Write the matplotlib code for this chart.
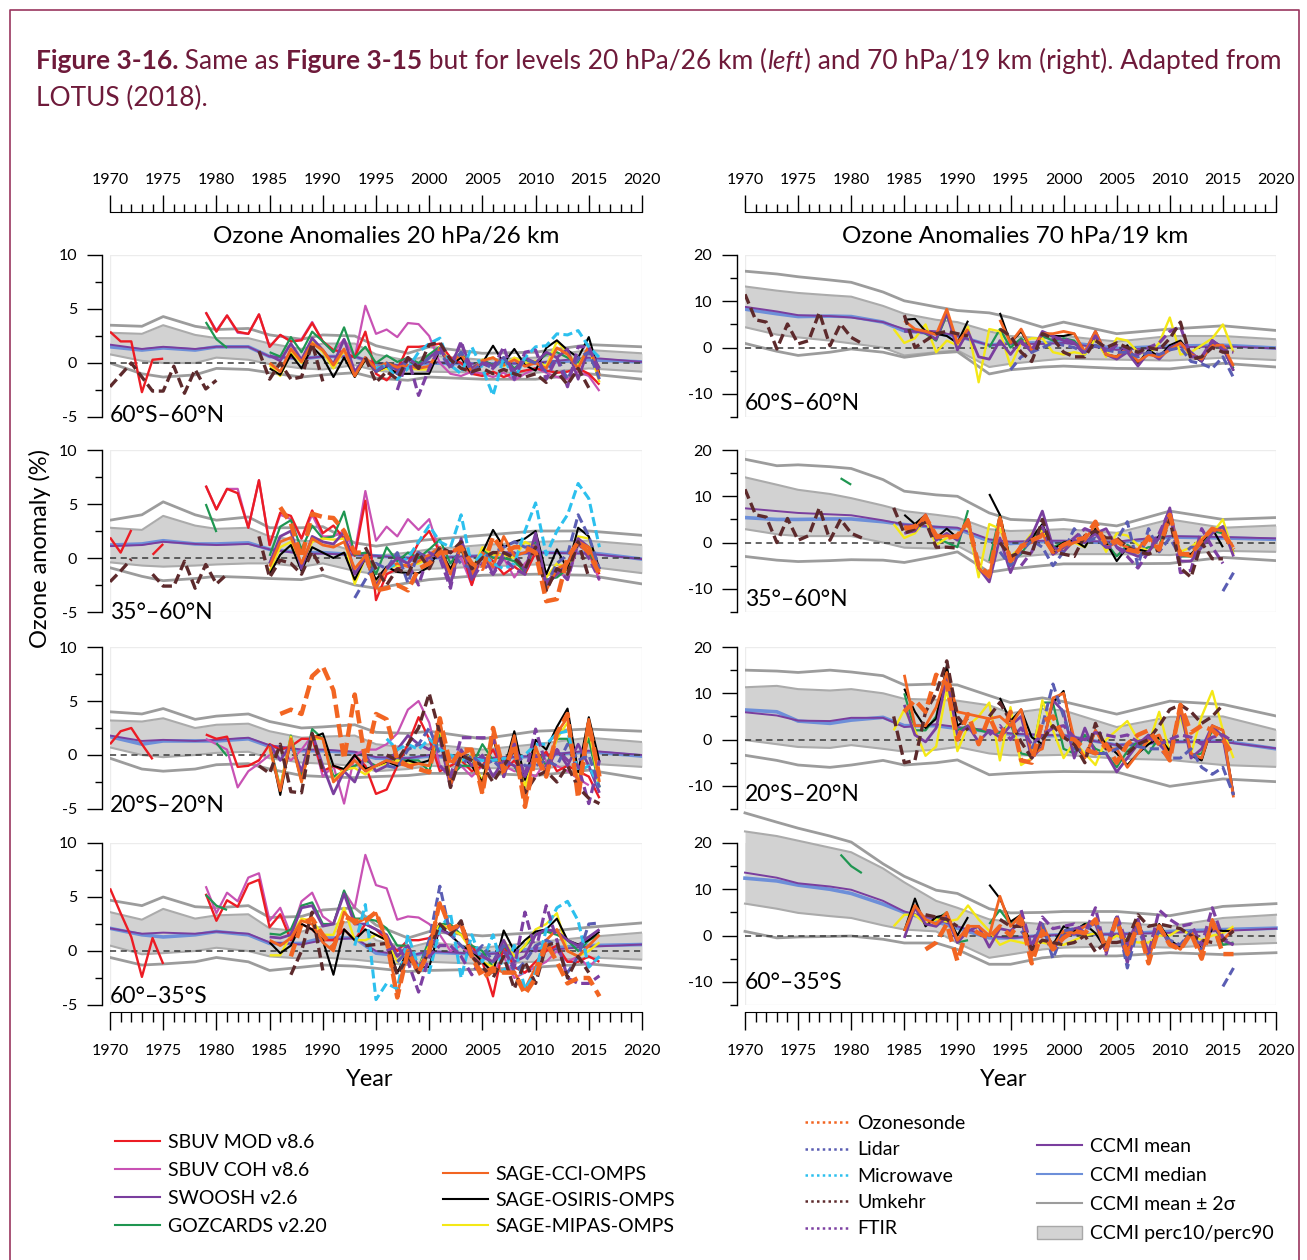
import numpy as np
import matplotlib

matplotlib.use("Agg")
import matplotlib.pyplot as plt
from matplotlib.lines import Line2D
from matplotlib.patches import Patch, Rectangle
from matplotlib.ticker import MultipleLocator

nan = np.nan

# ---------------------------------------------------------------- data
# CCMI model envelopes are given on a coarse grid of years
CCMI_YEARS = [1970, 1973, 1975, 1978, 1980, 1983, 1985, 1988, 1990, 1993,
              1995, 1998, 2000, 2005, 2010, 2015, 2020]

# 20 hPa, 60S-60N
A1_UP = [3.5, 3.4, 4.3, 3.4, 3.1, 3.2, 2.6, 2.2, 2.6, 2.5, 1.6, 0.9, 1.5, 0.9, 1.0, 1.7, 1.5]
A1_P90 = [2.8, 2.7, 3.5, 2.6, 2.3, 2.3, 1.8, 1.3, 1.8, 1.8, 0.8, 0.2, 0.7, 0.3, 0.5, 1.2, 0.9]
A1_P10 = [0.8, 0.2, 0.0, 0.0, 0.5, 0.3, -0.1, -0.5, -0.6, -0.2, -0.7, -1.0, -0.8, -0.9, -0.9, -0.5, -0.8]
A1_LO = [0.0, -1.0, -1.3, -1.1, -0.5, -0.6, -0.9, -1.3, -1.1, -0.9, -1.4, -1.6, -1.3, -1.5, -1.5, -1.0, -1.5]
A1_MEAN = [1.7, 1.3, 1.5, 1.3, 1.5, 1.5, 0.6, 0.4, 0.6, 0.6, 0.0, -0.3, 0.1, -0.1, 0.0, 0.5, 0.1]
A1_MEDIAN = [1.5, 1.2, 1.4, 1.2, 1.5, 1.5, 0.6, 0.4, 0.6, 0.6, -0.1, -0.3, 0.0, -0.1, 0.0, 0.3, 0.1]

A1_SBUV_MOD = (1970, [2.9, 2.0, 2.0, -2.7, 0.3, 0.4, nan, nan, nan, 4.7, 2.9, 4.4, 2.9, 2.7, 4.5, 1.5,
                      2.6, 2.0, 2.1, 3.7, 2.0, 1.2, 1.0, 0.5, 2.9, -1.0, -1.6, -0.6, 1.5, 1.5, 1.6, 1.8,
                      0.5, 0.0, -1.0, -1.2, -0.8, -1.3, -0.9, -0.7, -0.5, -0.7, -0.9, -0.8, -0.5, -1.0, -2.0])
A1_SBUV_COH = (1979, [4.7, 3.0, 4.4, 2.8, 2.7, 4.5, 1.5, 2.6, 2.0, 2.2, 3.8, 2.0, 1.0, 2.2, 0.5, 5.3,
                      2.7, 3.1, 2.4, 3.7, 3.6, 2.5, 0.0, -1.0, -1.2, -0.8, -1.0, -1.3, -0.9, -1.6, -1.0,
                      -0.5, -0.9, -1.3, -1.5, -0.8, -1.2, -2.6])
A1_GOZCARDS = (1979, [3.8, 2.2, 1.4, nan, nan, nan, 1.0, 0.6, 2.4, 1.0, 2.9, 2.0, 1.0, 3.3, 0.5, 1.5,
                      0.0, 0.7, 0.1, 0.5, 0.0, 0.8, 1.5, 0.0, 1.0, -0.5, 0.3, -0.2, 0.5, -0.5, 0.3,
                      0.0, 0.8, 1.0, 0.5, 0.0, 1.2, -0.5])
A1_SWOOSH = (1985, [0.7, 0.2, 1.8, 0.3, 2.3, 1.2, -0.1, 2.2, -0.8, 0.5, -0.8, -0.2, -0.6, 0.5, -0.3,
                    0.5, 1.3, -0.2, 1.8, -0.5, 0.2, -0.3, 0.5, -0.7, 0.5, 0.0, 1.0, 0.5, 1.3, -1.5, 1.4, -0.5])
A1_SAGE_CCI = (1985, [0.0, -0.8, 1.3, 0.1, 1.8, 1.2, -0.2, 1.3, -1.2, 0.5, -0.5, 0.0, -0.4, -0.2, -0.5,
                      -0.3, 1.3, 0.0, 0.8, -0.8, 0.2, 0.5, -0.2, 0.3, -0.3, 0.0, -0.5, 1.4, 0.8, -0.5, 1.6, -1.2])
A1_SAGE_OSIRIS = (1985, [-0.5, -1.1, 0.8, -0.5, 1.5, 0.5, -1.3, 0.5, -1.3, 0.3, -0.8, -0.3, -1.0, -1.0,
                         -1.0, -1.0, 1.2, -0.2, 0.5, -1.0, 0.0, 1.6, 0.0, 1.3, -0.2, -0.7, 1.4, 2.1, 1.2,
                         0.5, 2.4, -1.0])
A1_SAGE_MIPAS = (1985, [-0.2, -1.2, 1.0, 0.0, 2.0, 1.0, -0.5, 1.2, -1.2, 0.3, -0.8, -0.5, -1.0, -0.5,
                        -0.6, -0.6, 1.5, 0.0, 0.8, -0.5, 0.3, 0.5, -0.3, 0.5, 0.0, 0.2, -0.3, 2.0, 1.0,
                        -0.3, 1.5, -1.8])
A1_LIDAR = (1995, [-0.8, 0.0, -1.0, 0.3, -0.5, 0.5, 1.0, -0.5, 1.0, -0.8, 0.0, -0.5, 0.5, -1.0, 0.3,
                   0.0, -0.8, 0.5, -1.5, 0.5, 1.0, -1.5])
A1_MICROWAVE = (1995, [-0.5, -0.2, -1.5, -0.5, 1.0, 1.8, 2.3, -0.2, -1.0, 1.5, -0.5, -3.0, 0.5, -1.5,
                       0.5, 1.5, 1.6, 2.7, 2.6, 3.0, 1.5, 0.5])
A1_UMKEHR = (1970, [-2.2, -1.1, 0.0, -1.3, -2.6, -2.6, -0.3, -2.8, -0.6, -2.4, -1.6, nan, nan, nan, 1.1,
                    -1.5, 0.0, -1.5, -1.3, 1.8, -1.7, nan, nan, nan, 0.5, -1.8, -0.8, -1.5, 0.5, -0.5,
                    1.7, 1.9, 0.3, -0.5, -0.8, -0.5, -1.0, -0.6, -1.0, -1.3, -1.0, -1.8, -0.8, -2.0,
                    -0.5, -2.3])
A1_FTIR = (1997, [-2.5, 0.5, -3.0, -0.5, 1.5, -0.5, 2.0, -1.0, 0.0, -0.5, 1.5, -1.5, 1.0, 1.2, -1.5,
                  0.5, -2.2, 1.5, 1.5, -1.0])

# 20 hPa, 35-60N
B1_UP = [3.5, 4.0, 5.2, 4.0, 3.5, 3.8, 2.8, 2.8, 2.9, 1.4, 1.1, 1.5, 1.7, 2.1, 2.5, 2.5, 2.1]
B1_P90 = [2.8, 2.6, 3.9, 3.0, 2.7, 2.8, 2.0, 1.6, 1.5, 0.6, 0.2, 0.5, 0.8, 1.2, 1.5, 1.6, 1.2]
B1_P10 = [-0.4, -0.7, -0.8, -0.7, -0.6, -0.5, -0.5, -0.8, -0.5, -1.2, -1.5, -1.2, -1.0, -0.8, -0.6, -0.8, -1.4]
B1_LO = [-0.9, -1.7, -2.1, -1.9, -1.7, -1.8, -1.9, -2.0, -1.6, -2.5, -2.8, -2.3, -2.0, -1.6, -1.5, -1.6, -2.4]
B1_MEAN = [1.1, 1.2, 1.5, 1.3, 1.2, 1.3, 0.8, 0.4, 0.4, 0.3, 0.2, 0.0, 0.0, 0.2, 0.5, 0.4, -0.1]
B1_MEDIAN = [1.2, 1.3, 1.6, 1.3, 1.3, 1.4, 0.8, 0.5, 0.5, 0.3, 0.2, 0.0, 0.0, 0.2, 0.5, 0.5, -0.1]

B1_SBUV_MOD = (1970, [1.9, 0.5, 2.6, nan, 0.3, 1.3, nan, nan, nan, 6.7, 4.5, 6.4, 6.0, 2.8, 7.2, 1.2,
                      4.2, 3.9, 1.8, 4.4, 2.3, 3.0, 1.8, 0.2, 5.3, -3.9, -1.5, -1.0, -0.5, 1.4, 2.5,
                      0.5, 0.5, 1.0, -2.5, 0.5, -0.3, -1.5, -0.8, -1.5, 0.5, -2.5, -1.5, -1.0, 1.5,
                      0.5, -1.5])
B1_SBUV_COH = (1979, [6.7, 4.5, 6.4, 6.4, 2.8, 7.2, 1.2, 4.0, 3.6, 1.8, 4.0, 2.0, 2.0, 2.5, 0.5, 6.2,
                      1.6, 2.9, 2.0, 3.6, 2.6, 3.6, 0.5, -1.0, 0.0, -2.5, 0.8, -1.0, 0.0, -1.8, -0.5,
                      0.5, -2.8, -1.0, -2.0, 1.2, 0.5, -2.1])
B1_GOZCARDS = (1979, [5.0, 2.4, nan, nan, nan, nan, 0.2, 2.9, 3.5, 0.8, 3.0, 1.8, 2.0, 4.3, 0.3, 0.5,
                      -1.5, 1.0, -0.3, 0.5, 0.0, 0.8, 1.7, -0.5, 0.8, -1.5, 0.8, 0.0, 0.0, -0.3, -1.3,
                      1.5, -2.0, -1.8, -1.0, 1.3, 0.5, -1.0])
B1_SWOOSH = (1985, [-0.5, 2.0, 2.5, -1.0, 2.0, 1.5, 1.3, 2.4, -1.5, 0.0, -2.5, -1.0, 0.0, -0.5, 0.5,
                    0.0, 1.0, -2.5, 1.8, -2.0, 0.5, -1.5, 0.5, 0.5, -1.2, 2.3, -2.5, -1.5, -0.5, 1.8,
                    1.0, -1.0])
B1_SAGE_CCI = (1985, [-0.8, 1.5, 1.9, -0.5, 1.8, 1.2, 1.0, 1.5, -1.0, 0.2, -2.8, -1.0, -0.5, -0.8, -0.3,
                      0.3, 1.0, -1.5, 1.0, -1.5, 0.5, -0.8, 2.0, 0.2, 0.5, 1.2, -3.0, -1.0, -0.5, 1.5,
                      1.0, -1.2])
B1_SAGE_OSIRIS = (1985, [-1.5, 0.3, 1.2, -1.2, 1.0, 0.5, 0.0, 0.5, -2.0, 0.0, -2.0, -0.8, -1.3, -1.4,
                         -1.4, -0.8, 0.8, -1.0, 0.8, -1.0, 0.5, 2.6, 1.0, 1.5, 1.8, 2.5, -1.5, 0.8, -1.0,
                         2.8, 2.0, -1.0])
B1_SAGE_MIPAS = (1985, [-1.2, 1.0, 1.5, -0.8, 1.5, 1.8, 1.7, 1.8, -2.4, 0.0, -2.2, -1.0, -0.7, -0.7,
                        -0.5, 0.0, 0.8, -1.5, 1.0, -1.2, 1.0, 0.3, 0.3, 0.0, 1.5, 1.0, -1.8, -0.5, -1.0,
                        2.0, 1.8, -1.3])
B1_SONDE = (1986, [4.7, 3.2, 0.0, 4.1, 3.8, 3.7, 2.5, 0.5, 0.5, -3.0, -2.8, -2.5, -3.0, -1.0, -0.5,
                   0.5, 0.5, 1.0, -0.5, -1.0, 2.0, 0.5, 1.0, 1.0, 0.5, -4.0, -3.8, 0.0, 1.5, 0.5, -1.5])
B1_LIDAR = (1993, [-3.7, -2.0, -0.5, -1.0, 0.5, -2.3, 0.5, -0.5, 1.0, 0.5, -0.5, -1.0, 0.0, 0.5, 1.0,
                   1.5, 1.0, 1.2, -2.5, -0.5, 0.3, 4.0, 2.0, -1.0])
B1_MICROWAVE = (1996, [-1.0, -0.5, 0.0, 1.5, 3.0, 1.5, 1.0, 4.0, -0.8, 0.5, -0.5, -1.0, -0.5, 2.5, 5.1,
                       0.3, 2.5, 4.0, 6.9, 5.5, 1.0])
B1_UMKEHR = (1970, [-2.2, -1.2, -0.1, nan, -1.5, -2.6, -2.6, -0.3, -2.8, -0.6, -2.4, -1.5, nan, nan,
                    2.0, -1.8, -0.2, -0.5, -1.5, 0.6, -1.2, nan, nan, nan, 1.0, -1.0, -2.5, -1.0, -1.5,
                    0.5, -1.0, 1.0, 0.5, 1.5, -1.0, 0.0, 0.5, 0.5, 0.0, -1.0, 1.0, -3.0, -1.0, -1.5,
                    1.5, -1.8])
B1_FTIR = (1996, [-1.0, 0.0, -0.5, -2.5, 0.5, 0.0, -2.8, 1.8, -2.0, -0.5, -1.5, 0.0, -1.0, -1.5, 2.0,
                  -2.5, -1.0, -2.0, 1.5, 0.0, -2.0])

# 20 hPa, 20S-20N
C1_UP = [4.0, 3.8, 4.3, 3.3, 3.6, 3.8, 3.1, 2.5, 2.6, 2.8, 2.1, 2.0, 2.2, 1.5, 2.2, 2.4, 2.2]
C1_P90 = [3.2, 3.1, 3.4, 2.5, 2.8, 2.9, 2.2, 1.6, 1.7, 1.8, 1.0, 0.7, 1.0, 0.5, 1.0, 1.6, 1.2]
C1_P10 = [0.7, 0.0, -0.2, 0.0, 0.2, 0.3, -0.3, -0.7, -0.8, -1.0, -1.5, -1.3, -1.0, -1.2, -1.3, -0.8, -1.1]
C1_LO = [-0.3, -1.3, -1.5, -1.3, -0.9, -0.8, -1.3, -1.9, -2.0, -2.1, -2.0, -1.9, -1.7, -1.7, -1.9, -1.4, -2.2]
C1_MEAN = [1.8, 1.3, 1.4, 1.3, 1.4, 1.6, 0.9, 0.5, 0.5, 0.3, -0.2, -0.3, 0.0, -0.3, -0.1, 0.4, 0.0]
C1_MEDIAN = [1.7, 1.0, 1.3, 1.3, 1.3, 1.5, 0.8, 0.4, 0.4, 0.2, -0.3, -0.3, -0.1, -0.4, -0.1, 0.3, -0.1]

C1_SBUV_MOD = (1970, [1.0, 2.2, 2.5, 1.0, -0.4, nan, nan, nan, nan, 1.9, 1.5, 1.7, -1.1, -1.0, -0.5,
                      1.0, 0.5, 0.8, 1.5, 1.5, -1.5, -1.0, -1.5, 0.0, -1.0, -3.6, -3.2, -1.0, 1.0, 3.5,
                      1.5, -1.5, -1.0, -0.5, -1.5, -1.0, 0.5, -1.5, -0.5, -2.0, -0.5, 0.3, -1.5, -1.0,
                      -1.5, -2.0, -4.0])
C1_SBUV_COH = (1979, [1.5, 1.0, 0.5, -3.0, -1.5, -0.8, 0.0, 0.5, -0.5, 0.5, 1.8, -2.0, -1.0, -4.5, 0.0,
                      0.5, 0.5, 1.0, 2.0, 4.2, 5.0, 3.0, -1.0, -2.0, -1.0, -2.0, -1.0, -0.5, -1.0,
                      -1.5, -1.5, -2.0, -0.5, -1.0, -1.5, -2.2, -2.8])
C1_GOZCARDS = (1980, [1.1, -0.1, nan, nan, nan, 1.0, -3.0, 1.8, -2.0, 2.4, 1.5, -2.0, -1.5, -1.0, -0.5,
                      -1.0, -0.5, -0.5, -0.5, -0.5, -1.5, 2.0, -2.0, -1.0, -1.0, 1.0, -0.5, -0.5, -1.0,
                      -3.0, 0.5, -1.0, 1.5, 1.5, -1.5, 1.5, -3.0])
C1_SWOOSH = (1985, [1.0, -0.5, 1.0, -1.5, 2.0, -1.0, -3.6, -1.5, -2.5, 0.0, -1.5, -1.0, 0.5, 1.8, 1.0,
                    0.5, 1.5, -3.0, 0.5, -1.0, 0.0, -2.0, -0.5, -1.0, -2.0, 0.0, -1.5, 0.5, -1.0, 1.0,
                    -1.0, -3.5])
C1_SAGE_CCI = (1985, [0.8, -3.3, 1.5, -2.5, 1.8, 1.5, -2.5, -1.5, -0.5, -1.5, -1.0, -0.5, -0.8, -1.0,
                      -0.8, -1.0, 3.3, -2.8, 0.0, 0.5, -3.5, 2.0, -2.0, 1.8, -4.5, 0.8, -2.0, 2.0, 3.5,
                      -3.0, 3.3, -2.5])
C1_SAGE_OSIRIS = (1985, [1.0, -3.7, 1.4, -2.4, 1.6, 2.0, -1.0, -1.3, 0.0, -1.3, -1.0, -0.6, -1.0, -0.5,
                         -0.8, -0.5, 3.2, -2.5, 0.0, -1.0, -2.5, 1.5, -1.5, 2.2, -2.3, 1.4, 0.5, 2.6,
                         4.3, -1.6, 3.5, -0.6])
C1_SAGE_MIPAS = (1985, [0.5, -3.0, 1.7, -2.5, 1.5, 1.5, -2.4, -1.3, -1.2, -1.8, -1.0, -0.8, -0.5, -0.8,
                        -0.8, -1.0, 2.5, -2.0, -0.5, 0.0, -2.5, 1.8, -2.0, 1.5, -3.0, 0.5, -1.5, 1.5,
                        3.0, -2.5, 2.5, -3.0])
C1_SONDE = (1986, [3.8, 4.2, 3.8, 7.3, 8.2, 6.0, -0.4, 5.6, -0.5, 3.8, 3.3, -0.4, -1.0, -1.3, -1.6,
                   3.4, -1.0, 0.5, 0.5, -3.6, 2.5, -1.5, 1.0, -4.8, 0.0, -2.0, 2.0, 3.8, -4.0, 3.0,
                   -2.0])
C1_LIDAR = (1996, [-1.0, -1.2, 0.5, 1.0, 2.5, 0.0, -0.5, -1.0, 0.0, -1.0, -0.5, -1.5, 0.5, -1.0, -1.0,
                   -0.5, -1.0, 1.0, -0.5, 0.0, -3.0])
C1_MICROWAVE = (1996, [1.5, 0.5, 1.0, 0.5, 1.5, 0.5, 0.0, -0.5, -0.3, -0.5, -0.5, -0.3, -0.5, 0.0, 1.0,
                       1.0, 2.0, 2.2, -1.5, -1.0, -3.0])
C1_UMKEHR = (1984, [-1.0, -1.7, 1.0, -3.4, -3.5, 2.0, -1.5, nan, nan, nan, nan, nan, 0.0, -0.5, 1.0,
                    2.5, 5.7, 2.0, -3.0, 0.0, -0.5, -1.0, -2.5, -1.0, 0.5, -3.5, -2.0, -1.5, -2.5,
                    -1.0, -3.0, -4.0, -4.5])
C1_FTIR = (2001, [-1.0, -2.0, 1.6, 1.6, 1.6, 1.6, -2.0, 1.0, -2.0, 2.4, -1.0, 0.5, -0.5, -1.0, -4.5, -0.5])

# 20 hPa, 60-35S
D1_UP = [4.7, 4.2, 5.0, 4.1, 4.0, 4.2, 3.1, 3.2, 3.8, 4.0, 2.4, 1.2, 1.8, 1.4, 1.7, 2.2, 2.6]
D1_P90 = [3.6, 2.9, 3.9, 3.0, 3.3, 3.4, 2.1, 1.8, 2.3, 2.8, 1.0, 0.3, 0.8, 0.3, 0.8, 1.3, 1.7]
D1_P10 = [0.5, -0.3, -0.2, 0.0, 0.3, 0.0, -0.5, -0.7, -0.6, -0.8, -1.0, -1.3, -1.0, -1.2, -1.0, -0.6, -0.8]
D1_LO = [-0.6, -1.3, -1.2, -1.0, -0.6, -1.0, -1.8, -1.5, -1.3, -1.4, -1.6, -1.9, -1.8, -1.7, -1.5, -1.2, -1.6]
D1_MEAN = [2.1, 1.6, 1.7, 1.6, 1.8, 1.6, 0.8, 0.6, 1.0, 1.2, 0.0, -0.5, 0.0, -0.3, 0.0, 0.4, 0.6]
D1_MEDIAN = [2.1, 1.5, 1.3, 1.5, 1.8, 1.5, 0.7, 0.7, 1.2, 1.2, -0.2, -0.5, -0.1, -0.3, 0.2, 0.5, 0.6]

D1_SBUV_MOD = (1970, [5.8, 3.5, 1.3, -2.4, 1.2, -1.2, nan, nan, nan, 5.3, 2.8, 4.7, 4.1, 6.2, 6.6, 2.2,
                      3.4, 1.0, 2.5, 2.0, 1.0, 1.0, 2.0, 1.0, 2.5, 2.0, 1.0, 0.0, 1.0, 1.0, 1.2, 2.5,
                      2.0, 1.5, 0.5, -1.0, -4.2, 0.5, -1.5, -2.0, -1.0, 0.0, 0.5, -1.0, -1.0, -0.5, -1.0])
D1_SBUV_COH = (1979, [6.0, 3.5, 5.4, 4.6, 6.8, 7.2, 2.8, 4.0, 1.5, 4.6, 5.4, 3.2, 2.5, 5.5, 4.0, 8.9,
                      6.1, 5.8, 2.9, 3.2, 3.1, 2.5, 1.5, 0.0, 0.5, -0.5, -1.0, -2.0, -0.5, -2.5, -2.0,
                      -1.5, -1.0, 0.0, -1.0, -0.5, -1.5, -0.5])
D1_GOZCARDS = (1979, [5.2, 4.2, 3.8, nan, nan, nan, 1.6, 1.5, 2.0, 4.2, 4.5, 2.5, 2.5, 5.6, 3.0, 3.0,
                      2.8, 2.1, 0.5, 0.5, -1.5, 1.0, 2.5, 2.5, 1.5, 0.5, 0.0, -1.5, 0.5, -0.5, 0.5,
                      1.5, 1.8, 1.5, 1.0, 0.0, 1.0, 1.5])
D1_SWOOSH = (1985, [1.3, 1.2, 1.5, 4.0, 4.2, 2.3, 2.5, 5.3, 2.5, 2.5, 2.0, 1.5, -0.5, 0.5, -1.5, 0.0,
                    2.0, 1.5, 2.5, 0.0, -0.5, -1.0, 1.0, -1.0, -0.5, 1.5, 2.0, 1.8, 1.0, 0.5, 1.3, 2.0])
D1_SAGE_CCI = (1985, [1.0, 0.5, 1.2, 2.8, 2.5, 0.8, 0.0, 3.6, 2.5, 3.0, 3.5, 1.0, -4.0, 0.0, -2.0, 0.0,
                      4.5, 2.0, 2.5, -0.5, -2.0, -1.5, -2.0, -2.0, -3.5, -1.5, 1.0, 2.0, 0.0, -0.5,
                      0.5, 1.5])
D1_SAGE_OSIRIS = (1985, [0.8, -0.2, 0.5, 2.5, 2.0, 1.0, -2.2, 2.0, 1.0, 2.0, 1.5, 1.0, -2.0, 0.0, -1.5,
                         -1.5, 2.2, 1.5, 0.5, 0.0, -1.0, -2.0, 1.9, 0.0, 1.0, 1.8, 2.0, 3.0, 1.0, 0.6,
                         1.0, 1.8])
D1_SAGE_MIPAS = (1985, [-0.4, -0.4, 1.5, 3.0, 2.8, 1.5, 1.5, 4.0, 1.0, 1.0, 1.5, 1.0, -1.0, 0.5, -1.5,
                        0.5, 2.5, 2.0, 1.5, 0.0, -1.0, -1.5, 1.0, -0.5, 0.5, 2.0, 2.5, 3.5, 0.0, -0.5,
                        0.0, 0.8])
D1_SONDE = (1987, [-0.5, 2.5, 3.0, 1.5, 0.3, 3.2, 2.8, 2.8, 3.6, 1.0, -4.3, 0.0, -2.0, 0.0, 4.6, 2.0,
                   2.5, -0.5, -2.5, -1.8, -2.0, -2.0, -4.0, -2.5, 0.8, -1.0, -3.0, -2.5, -2.5, -4.2])
D1_LIDAR = (1997, [-1.0, 0.0, -2.0, 1.0, 6.0, 1.5, 0.5, -0.5, 0.5, -1.0, 0.5, -2.0, -1.0, 0.5, 1.0,
                   0.5, -2.0, -0.5, 2.5, 2.6])
D1_MICROWAVE = (1993, [0.5, 4.3, -4.5, -3.0, -3.5, 1.5, -1.5, -2.0, 2.0, 3.5, -2.5, 1.5, -1.0, 1.5, -2.0,
                       0.5, -3.5, -2.0, 2.0, 4.0, 4.6, 2.8, -1.5, -0.5])
D1_UMKEHR = (1987, [-2.2, 0.0, 3.6, -1.8, nan, nan, nan, 0.5, 0.6, 0.7, -2.2, -0.5, -2.0, 0.0, 2.5, 1.5,
                    2.8, -0.5, -1.5, -2.5, -0.5, -3.5, -1.0, -3.0, 0.5, 0.8, -2.5, -0.5, -2.0])
D1_FTIR = (1996, [0.0, 0.5, -1.0, -3.8, -0.5, 0.5, 0.5, -0.5, -2.2, -0.5, -1.0, 0.0, -1.5, 3.6, 0.0,
                  4.2, 1.0, -2.5, -3.0, -3.0, -2.3])

# 70 hPa, 60S-60N
A2_UP = [16.5, 15.9, 15.3, 14.6, 14.1, 12.0, 10.1, 8.8, 8.0, 7.5, 6.5, 4.4, 5.5, 3.0, 4.0, 4.7, 3.7]
A2_P90 = [13.2, 12.3, 11.8, 11.3, 11.0, 9.0, 7.3, 6.0, 5.5, 3.5, 2.5, 2.0, 2.5, 1.3, 2.5, 2.5, 1.8]
A2_P10 = [4.4, 2.8, 2.2, 1.5, 0.9, 0.0, -1.7, -1.0, -0.6, -4.2, -3.5, -2.8, -2.4, -2.6, -2.8, -2.2, -2.7]
A2_LO = [0.9, -0.8, -1.7, -1.0, -0.3, -1.0, -2.1, -1.2, -0.9, -5.7, -4.8, -4.2, -4.0, -4.5, -4.6, -3.4, -4.2]
A2_MEAN = [8.8, 7.8, 7.0, 6.8, 6.5, 5.5, 4.0, 3.5, 2.5, 0.5, 0.8, 0.8, 1.0, -0.5, 0.0, 0.3, -0.2]
A2_MEDIAN = [8.3, 7.3, 6.7, 6.8, 6.7, 5.5, 3.6, 3.0, 2.5, 0.5, 1.0, 1.0, 1.2, -0.2, 0.3, 0.5, -0.1]

A2_GOZCARDS = (1985, [3.5, 4.0, 3.0, 1.5, 7.0, 1.0, 3.5, nan, 0.0, 4.0, 0.0, 2.0, -0.5, 2.5, 1.5, 2.0,
                      1.5, -1.5, 2.0, -1.5, -2.0, -0.5, -3.5, -1.0, -2.0, 0.0, 1.0, -1.5, -3.0, 1.0,
                      0.0, -4.5])
A2_SWOOSH = (1985, [3.5, 3.5, 3.2, 1.8, 7.5, -0.5, 3.5, -2.0, -2.5, 1.5, -1.5, 1.5, -1.0, 3.5, 2.5, 1.5,
                    1.0, -1.0, 3.5, -1.5, -2.5, -1.0, -4.0, -1.0, -2.5, 0.0, 1.0, -1.0, -3.0, 1.5, 0.0,
                    -5.0])
A2_SAGE_CCI = (1985, [5.8, 4.0, 3.5, 2.8, 8.3, 1.0, 4.0, nan, nan, 6.0, 1.0, 4.0, -0.5, 3.0, 3.0, 3.5,
                      3.0, -1.0, 3.5, -1.5, -2.0, 0.0, -3.0, -1.5, -2.0, -0.5, 1.0, -1.5, -2.5, 0.5,
                      0.5, -4.0])
A2_SAGE_OSIRIS = (1985, [6.0, 6.2, 3.5, 3.0, 2.5, 1.0, 5.8, nan, nan, 7.5, 1.0, 3.5, -0.5, 3.0, 2.5,
                         2.5, 3.0, -1.0, 3.0, -1.5, -2.0, 0.5, -3.5, -0.5, -2.0, 0.5, 1.5, -1.5, -3.0,
                         1.5, 0.0, -5.0])
A2_SAGE_MIPAS = (1984, [4.0, 1.0, 2.0, 5.0, -1.0, 1.5, 0.5, 4.5, -7.5, 4.0, 3.5, -4.0, 1.0, 2.0, 2.0,
                        -1.0, -1.5, -1.0, -1.5, 2.0, -2.0, 2.0, 1.5, -1.0, -1.5, 1.0, 6.5, -1.5, -1.0,
                        0.5, 2.0, 5.0, -1.0])
A2_LIDAR = (1995, [-4.8, -2.0, -1.0, 0.0, 1.0, 0.5, 0.0, -1.0, 0.5, -0.5, -1.0, -1.0, -2.0, -1.0, -1.5,
                   -0.5, 0.0, -3.0, -3.5, -4.5, -2.0, -6.5])
A2_UMKEHR = (1970, [11.5, 6.0, 5.5, -0.3, 5.1, 0.8, 1.5, 7.6, 0.4, 5.1, 2.2, 0.9, nan, nan, nan, 7.0,
                    0.0, 1.5, 3.0, 3.5, 3.0, 2.5, nan, nan, 4.0, 2.5, -1.0, -3.0, 3.0, 2.0, -1.0, -2.0,
                    -2.0, 1.5, 0.0, 1.0, 0.0, -1.0, 0.0, -0.5, 2.0, 5.5, -2.5, -2.0, 0.0, -1.0, -1.0])
A2_FTIR = (1996, [1.0, -0.5, 3.0, 2.0, 2.0, 1.0, -1.5, 2.5, -1.0, 0.5, -0.5, -1.5, 0.0, 1.0, 3.5, 4.5,
                  -2.0, -2.0, 1.5, -0.5, -1.0])

# 70 hPa, 35-60N
B2_UP = [18.0, 16.6, 16.8, 16.4, 16.0, 13.6, 11.1, 10.3, 10.0, 6.4, 5.0, 4.7, 5.0, 3.6, 6.8, 5.0, 5.4]
B2_P90 = [14.1, 12.5, 11.4, 10.5, 9.6, 8.0, 6.8, 6.0, 5.4, 2.9, 2.5, 2.7, 2.9, 2.1, 5.0, 3.2, 3.7]
B2_P10 = [2.9, 1.8, 1.4, 1.4, 1.4, 0.0, -1.1, -1.3, -0.7, -4.3, -3.2, -2.6, -2.5, -2.5, -2.7, -1.8, -2.0]
B2_LO = [-3.0, -3.8, -4.1, -3.9, -3.7, -3.8, -4.3, -3.0, -2.0, -6.4, -5.7, -5.0, -4.6, -4.6, -4.5, -3.2, -3.9]
B2_MEAN = [7.4, 6.8, 6.4, 6.1, 5.9, 4.8, 3.9, 3.4, 3.2, 0.7, 0.2, 0.4, 0.4, 0.2, 1.4, 1.2, 0.9]
B2_MEDIAN = [5.4, 5.0, 5.0, 5.1, 5.1, 4.5, 3.9, 3.3, 3.0, 0.3, -0.2, 0.2, 0.2, 0.0, 1.2, 1.0, 0.7]

B2_GOZCARDS = (1979, [13.9, 12.5, nan, nan, nan, nan, 3.0, 2.5, 5.5, 1.0, 0.0, -1.0, 7.0, nan, -4.0,
                      6.0, -4.0, -2.5, 1.0, 3.0, -1.0, 0.0, 0.5, -1.0, 3.0, 0.0, -3.0, -0.5, -2.0,
                      -1.0, -1.0, 6.5, -3.0, -3.0, -1.0, 2.5, 2.0, -2.0])
B2_SWOOSH = (1985, [2.0, 2.5, 6.0, 0.5, 2.0, 0.5, 5.0, -5.5, -8.5, 1.0, -6.5, -1.0, 1.5, 6.8, -1.0,
                    -2.0, 0.5, 0.0, 2.0, 3.0, -1.0, -2.0, -3.0, -2.0, 1.0, 7.5, -4.0, -4.0, -1.0, 2.0,
                    3.5, -3.0])
B2_SAGE_CCI = (1985, [3.5, 3.0, 6.0, 1.0, 1.5, 1.0, 5.0, -5.5, -7.5, 5.5, -4.5, -0.5, 0.0, 2.0, -2.5,
                      -1.0, 0.0, 0.5, 4.0, -1.0, 0.0, -1.0, -1.5, 1.5, -2.0, 6.0, -2.5, -3.0, 0.5, 3.0,
                      2.5, -1.0])
B2_SAGE_OSIRIS = (1985, [6.0, 4.0, 6.0, 1.0, 3.0, 1.0, 5.0, nan, 10.5, 6.0, -4.0, -1.0, 1.0, 4.0, -1.5,
                         0.0, 0.5, -1.0, 3.0, 0.0, -4.0, -1.0, -1.5, -2.0, 1.5, 6.0, -2.5, -2.5, 0.0,
                         3.0, -1.0])
B2_SAGE_MIPAS = (1984, [4.0, 1.0, 2.0, 5.0, -0.5, 1.0, 1.5, 4.0, -7.5, 4.0, 3.0, -3.0, -1.0, 2.0, 2.5,
                        -1.5, -1.5, 0.0, -1.0, 3.0, -2.0, 2.0, 1.5, -0.5, -2.0, 1.0, 6.0, -2.0, -1.0,
                        1.0, 2.0, 5.0, -2.5])
B2_SONDE = (1985, [3.0, 3.5, 5.5, 1.5, 1.0, 1.5, 4.5, -5.0, -7.0, 5.0, -4.0, -1.0, 0.5, 1.5, -2.0,
                   -0.5, 0.5, 1.0, 4.5, -0.5, 0.5, -1.5, -2.0, 1.0, -1.5, 6.0, -2.5, -2.5, 0.5, 3.0,
                   2.0, -1.5])
B2_LIDAR = (1994, [-2.0, -5.0, -2.0, 0.5, -1.0, -5.0, -2.0, 3.0, 0.0, 1.0, -1.0, 0.5, 4.5, -5.0, 3.0,
                   -2.0, 1.0, -3.0, -1.0, -1.0, nan, -10.5, -6.5])
B2_UMKEHR = (1970, [11.5, 6.0, 5.5, 0.0, 5.2, 0.5, 1.5, 7.5, 0.5, 5.0, 2.0, 1.0, nan, nan, 7.5, 2.0,
                    3.0, 4.5, -1.0, -1.0, -1.2, nan, nan, nan, 0.0, -3.0, -2.0, -2.5, 5.0, -2.0, -2.5,
                    -3.0, 1.5, 2.5, 1.0, 1.0, -1.0, -2.0, -2.5, -1.5, 5.0, -5.5, -7.5, 0.0, -3.5, -3.5])
B2_FTIR = (1996, [-5.0, -2.0, 3.5, -2.5, -1.0, 1.0, 3.0, 2.0, -1.0, -1.0, -3.0, -5.5, -2.0, 2.0, 7.0,
                  -6.5, -6.0, 3.0, -1.0, -4.5])

# 70 hPa, 20S-20N
C2_UP = [15.0, 14.8, 14.5, 15.0, 14.6, 13.8, 11.8, 12.0, 11.8, 9.5, 8.0, 9.0, 8.2, 5.5, 8.3, 7.6, 5.1]
C2_P90 = [11.3, 11.6, 10.9, 10.6, 10.9, 10.0, 8.8, 8.6, 8.4, 7.4, 5.7, 6.6, 6.3, 2.7, 4.9, 5.0, 2.1]
C2_P10 = [-0.1, -1.0, -1.6, -1.8, -1.2, -2.0, -2.6, -2.2, -1.6, -3.0, -3.4, -3.4, -3.3, -4.1, -4.4, -5.5, -5.9]
C2_LO = [-3.4, -4.5, -5.5, -6.0, -5.5, -4.5, -5.5, -5.0, -4.4, -7.6, -7.3, -7.0, -6.9, -7.0, -10.1, -8.5, -9.1]
C2_MEAN = [5.9, 5.2, 4.1, 4.0, 4.7, 4.7, 2.7, 3.3, 2.7, 2.0, 1.3, 1.0, 0.9, -1.2, -0.5, -0.5, -1.9]
C2_MEDIAN = [6.4, 6.0, 4.0, 3.5, 4.2, 4.8, 3.0, 3.0, 2.4, 1.8, 1.2, 0.8, 0.9, -1.2, -0.5, -0.3, -2.0]

C2_GOZCARDS = (1985, [10.0, 2.0, 2.0, 5.0, 14.0, 2.0, 3.0, 2.0, 1.5, 1.5, 3.5, -3.0, -3.5, 8.0, 8.0,
                      -2.0, -3.0, 1.0, -2.0, -3.0, -6.0, -2.5, -0.5, -3.0, 0.5, -3.5, 6.5, -3.5, -3.0,
                      2.0, 1.0, -12.0])
C2_SWOOSH = (1985, [7.5, 1.0, -0.5, 2.5, 13.5, 1.0, 3.0, -0.5, 2.0, 0.5, 3.0, 5.0, -4.0, -1.5, 8.5,
                    6.0, -4.0, 2.5, -3.0, -3.0, -7.0, -4.0, -1.0, 1.0, -1.0, -3.5, 6.5, -4.0, -2.0,
                    3.0, 0.5, -12.0])
C2_SAGE_CCI = (1985, [14.0, 3.0, 3.0, 7.0, 14.5, 6.0, 5.5, 5.0, 4.5, 5.0, 3.0, 6.5, -3.0, -2.0, 9.0,
                      10.0, 0.0, -4.0, 2.0, -2.0, -2.0, -6.0, -3.0, 0.0, 1.0, -4.0, 7.5, -3.0, -4.0,
                      3.0, 2.0, -12.5])
C2_SAGE_OSIRIS = (1985, [11.0, 6.0, 2.5, 4.5, 16.0, 3.0, 4.5, nan, nan, 9.0, 4.0, 6.5, 0.5, -1.0, 8.0,
                         10.5, -1.0, -4.0, 2.0, -1.0, -3.0, -5.5, -3.0, -1.0, 0.5, -2.5, 7.0, -3.5,
                         -4.5, 3.0, 2.0, -12.0])
C2_SAGE_MIPAS = (1984, [2.0, 6.5, 2.0, -3.5, -1.5, 11.0, -2.5, 3.0, 5.0, 8.0, -4.5, 7.0, -5.5, -4.0,
                        8.5, 2.0, -4.0, -0.5, -3.0, -5.5, 0.0, 2.0, 4.0, 0.0, -1.0, 6.0, -3.0, 5.0,
                        -3.0, 5.0, 10.5, 2.0, -4.0])
C2_SONDE = (1985, [6.0, 8.5, 6.0, 14.0, 12.0, 0.0, 5.5, -1.0, 5.0, 0.0, 6.0, -4.5, -5.0, 4.0, 5.0,
                   0.5, 0.0, -2.0, -3.0, -1.0, -5.0, -1.0, 1.0, 2.0, -1.0, -4.5, 7.5, 1.5, 3.0, 2.0,
                   0.0, -3.5])
C2_LIDAR = (1997, [-2.0, 3.0, 12.0, 5.0, -2.0, -2.5, -3.0, -3.0, -2.0, -1.0, -1.5, -2.0, -2.0, -4.0,
                   -4.0, -2.0, -6.0, -7.5, -6.0, -12.0])
C2_UMKEHR = (1984, [5.0, -5.0, -4.5, 6.0, 10.0, 17.0, 5.0, 2.0, nan, 5.0, 8.0, 4.0, -0.5, -4.0, 0.0,
                    3.0, 0.5, -1.0, -5.0, 3.5, -2.0, -1.0, -3.0, -1.0, 0.0, 3.0, 6.5, 7.5, 6.0, 3.5,
                    5.0, 7.5])
C2_FTIR = (1993, [1.0, 3.0, 0.0, 2.5, -1.0, 1.0, 2.5, 3.0, 0.5, 0.0, 1.5, 1.0, 0.5, 1.0, -0.5, 0.5,
                  -1.0, 0.0, 1.0, 0.5, -1.0, 0.5, 1.0, -0.5])

# 70 hPa, 60-35S
D2_UP = [26.5, 24.5, 23.2, 21.5, 20.2, 15.5, 12.8, 9.8, 9.1, 5.8, 4.9, 5.0, 5.2, 5.2, 4.3, 6.3, 6.9]
D2_P90 = [22.5, 21.5, 20.5, 19.0, 18.0, 14.5, 11.5, 7.5, 6.0, 3.5, 3.0, 2.5, 2.8, 2.8, 2.0, 3.8, 4.5]
D2_P10 = [6.9, 5.8, 4.9, 4.2, 3.8, 2.2, 1.3, 0.9, -1.6, -4.8, -4.1, -3.0, -2.6, -2.3, -2.6, -2.0, -1.6]
D2_LO = [0.9, -0.5, -0.3, -0.2, -0.1, -0.8, -1.6, -1.6, -3.0, -6.2, -6.2, -4.8, -4.4, -4.4, -3.7, -4.1, -3.7]
D2_MEAN = [13.6, 12.5, 11.3, 10.6, 9.9, 7.5, 5.2, 3.5, 2.0, -0.1, -0.5, 0.0, 0.2, 0.3, 0.6, 1.0, 1.5]
D2_MEDIAN = [12.4, 11.8, 10.9, 10.0, 9.1, 6.8, 5.0, 3.0, 1.6, -0.5, -0.5, 0.0, 0.2, 0.3, 0.9, 1.3, 1.6]

D2_GOZCARDS = (1979, [17.5, 15.0, 13.5, nan, nan, nan, nan, nan, nan, 3.5, 5.0, -1.5, -1.0, nan, 2.5,
                      5.5, 2.5, 4.0, -3.5, 2.0, -2.5, 0.5, 1.0, 2.5, 3.0, -3.0, 4.0, -3.5, 3.0, -4.5,
                      2.0, -1.5, -2.5, 1.0, -3.5, 3.0, -2.0, -1.5])
D2_SWOOSH = (1985, [-0.5, 6.0, 2.5, 2.0, 4.0, -1.5, 1.0, 2.0, -2.5, 1.5, 1.0, 3.0, -4.0, 2.0, -3.0, 0.0,
                    1.5, 2.0, 2.5, -3.5, 3.5, -6.0, 3.0, -4.0, 2.0, -2.0, -2.0, 0.5, -3.5, 2.5, -1.0,
                    -2.0])
D2_SAGE_CCI = (1985, [1.0, 6.5, 3.5, 2.5, 5.0, -1.0, 2.0, 2.0, 0.0, 8.5, 2.0, 4.5, -4.5, 2.5, -2.5, 1.0,
                      0.5, 2.0, 3.5, -3.5, 4.0, -3.5, 3.5, -5.0, 2.0, -1.5, -3.0, 1.0, -4.0, 3.5, -1.0,
                      1.5])
D2_SAGE_OSIRIS = (1985, [1.0, 8.0, 2.0, 4.0, 4.5, 0.0, 4.0, nan, 11.0, 8.0, 3.0, 4.5, -3.0, 1.5, -2.0,
                         2.0, 1.0, 2.5, 0.5, -3.0, 4.0, -3.0, 3.5, -4.0, 2.5, -1.0, -2.5, 0.5, -3.0,
                         1.5, 1.0, 1.0])
D2_SAGE_MIPAS = (1984, [2.0, 4.5, 4.5, 2.5, 3.5, 3.0, 3.5, 6.5, 3.5, 1.0, -2.0, -1.0, -1.5, -2.0, -1.5,
                        -2.0, -2.0, -1.0, 0.0, 0.5, -1.5, 0.0, -1.0, -1.5, -1.5, 0.0, 0.0, 1.5, 0.0,
                        -1.0, 0.0, 0.5, 2.0])
D2_SONDE = (1987, [-3.0, -1.5, 2.5, -5.5, 2.0, 0.5, -0.5, 2.0, 0.0, 3.5, -6.0, 1.0, -3.0, -0.5, 1.0,
                   0.5, 3.5, -3.0, 3.5, -4.0, 2.5, -6.0, 2.0, -2.0, -3.0, 0.5, -5.0, 3.0, -4.0, -4.0])
D2_LIDAR = (1996, [1.0, -2.0, 2.5, -5.0, 1.0, 1.5, 0.5, 3.5, -2.5, 4.0, -7.0, 1.5, -4.0, 1.0, -1.0, -2.0,
                   1.0, -3.0, nan, -11.0, -7.0])
D2_UMKEHR = (1987, [4.5, 4.0, 3.5, 2.0, nan, nan, nan, 3.5, 2.0, 2.0, -3.0, -1.0, -1.5, -2.0, -1.5, 0.0,
                    -3.5, -1.5, -1.5, -1.0, 4.5, 2.0, 2.5, 2.0, 1.5, 0.0, -1.0, -1.5, -1.0, 1.0])
D2_FTIR = (1996, [5.5, -2.5, 4.0, 1.5, 2.0, 2.5, 0.5, 6.0, -4.0, 4.5, -2.0, 3.5, -4.0, 5.5, 3.5, 2.0,
                  2.5, -2.0, 6.0, -0.5, -2.0])

REGIONS_LEFT = ["60°S–60°N", "35°–60°N", "20°S–20°N", "60°–35°S"]
REGIONS_RIGHT = ["60°S–60°N", "35°–60°N", "20°S–20°N", "60°–35°S"]

# ---------------------------------------------------------------- tables built from the arrays
LEFT = [
    ((A1_UP, A1_P90, A1_P10, A1_LO, A1_MEAN, A1_MEDIAN),
     dict(sbuv_mod=A1_SBUV_MOD, sbuv_coh=A1_SBUV_COH, gozcards=A1_GOZCARDS, swoosh=A1_SWOOSH,
          sage_cci=A1_SAGE_CCI, sage_osiris=A1_SAGE_OSIRIS, sage_mipas=A1_SAGE_MIPAS,
          lidar=A1_LIDAR, microwave=A1_MICROWAVE, umkehr=A1_UMKEHR, ftir=A1_FTIR)),
    ((B1_UP, B1_P90, B1_P10, B1_LO, B1_MEAN, B1_MEDIAN),
     dict(sbuv_mod=B1_SBUV_MOD, sbuv_coh=B1_SBUV_COH, gozcards=B1_GOZCARDS, swoosh=B1_SWOOSH,
          sage_cci=B1_SAGE_CCI, sage_osiris=B1_SAGE_OSIRIS, sage_mipas=B1_SAGE_MIPAS, sonde=B1_SONDE,
          lidar=B1_LIDAR, microwave=B1_MICROWAVE, umkehr=B1_UMKEHR, ftir=B1_FTIR)),
    ((C1_UP, C1_P90, C1_P10, C1_LO, C1_MEAN, C1_MEDIAN),
     dict(sbuv_mod=C1_SBUV_MOD, sbuv_coh=C1_SBUV_COH, gozcards=C1_GOZCARDS, swoosh=C1_SWOOSH,
          sage_cci=C1_SAGE_CCI, sage_osiris=C1_SAGE_OSIRIS, sage_mipas=C1_SAGE_MIPAS, sonde=C1_SONDE,
          lidar=C1_LIDAR, microwave=C1_MICROWAVE, umkehr=C1_UMKEHR, ftir=C1_FTIR)),
    ((D1_UP, D1_P90, D1_P10, D1_LO, D1_MEAN, D1_MEDIAN),
     dict(sbuv_mod=D1_SBUV_MOD, sbuv_coh=D1_SBUV_COH, gozcards=D1_GOZCARDS, swoosh=D1_SWOOSH,
          sage_cci=D1_SAGE_CCI, sage_osiris=D1_SAGE_OSIRIS, sage_mipas=D1_SAGE_MIPAS, sonde=D1_SONDE,
          lidar=D1_LIDAR, microwave=D1_MICROWAVE, umkehr=D1_UMKEHR, ftir=D1_FTIR)),
]
RIGHT = [
    ((A2_UP, A2_P90, A2_P10, A2_LO, A2_MEAN, A2_MEDIAN),
     dict(gozcards=A2_GOZCARDS, swoosh=A2_SWOOSH, sage_cci=A2_SAGE_CCI, sage_osiris=A2_SAGE_OSIRIS,
          sage_mipas=A2_SAGE_MIPAS, lidar=A2_LIDAR, umkehr=A2_UMKEHR, ftir=A2_FTIR)),
    ((B2_UP, B2_P90, B2_P10, B2_LO, B2_MEAN, B2_MEDIAN),
     dict(gozcards=B2_GOZCARDS, swoosh=B2_SWOOSH, sage_cci=B2_SAGE_CCI, sage_osiris=B2_SAGE_OSIRIS,
          sage_mipas=B2_SAGE_MIPAS, sonde=B2_SONDE, lidar=B2_LIDAR, umkehr=B2_UMKEHR, ftir=B2_FTIR)),
    ((C2_UP, C2_P90, C2_P10, C2_LO, C2_MEAN, C2_MEDIAN),
     dict(gozcards=C2_GOZCARDS, swoosh=C2_SWOOSH, sage_cci=C2_SAGE_CCI, sage_osiris=C2_SAGE_OSIRIS,
          sage_mipas=C2_SAGE_MIPAS, sonde=C2_SONDE, lidar=C2_LIDAR, umkehr=C2_UMKEHR, ftir=C2_FTIR)),
    ((D2_UP, D2_P90, D2_P10, D2_LO, D2_MEAN, D2_MEDIAN),
     dict(gozcards=D2_GOZCARDS, swoosh=D2_SWOOSH, sage_cci=D2_SAGE_CCI, sage_osiris=D2_SAGE_OSIRIS,
          sage_mipas=D2_SAGE_MIPAS, sonde=D2_SONDE, lidar=D2_LIDAR, umkehr=D2_UMKEHR, ftir=D2_FTIR)),
]

# ---------------------------------------------------------------- styles
DASH = (0, (3.0, 1.4))
STYLE = {
    "sbuv_coh": dict(color="#c852b4", lw=1.6),
    "sbuv_mod": dict(color="#ec1c24", lw=1.7),
    "gozcards": dict(color="#1f9651", lw=1.6),
    "sage_mipas": dict(color="#f4e816", lw=1.7),
    "sage_osiris": dict(color="#000000", lw=1.5),
    "swoosh": dict(color="#7a3e9e", lw=2.0),
    "sage_cci": dict(color="#f26522", lw=2.0),
    "microwave": dict(color="#2cc0ee", lw=2.2, ls=DASH),
    "lidar": dict(color="#5a5db3", lw=2.2, ls=DASH),
    "ftir": dict(color="#7d40a2", lw=2.3, ls=DASH),
    "umkehr": dict(color="#5d2a2c", lw=2.4, ls=DASH),
    "sonde": dict(color="#f26522", lw=3.2, ls=DASH),
}
DRAW_ORDER = ["sbuv_coh", "sbuv_mod", "gozcards", "sage_mipas", "sage_osiris", "swoosh",
              "sage_cci", "microwave", "lidar", "ftir", "umkehr", "sonde"]

GREY_LINE = "#9c9c9c"
BAND = "#d2d2d2"
MEAN_C = "#7a3e9e"
MEDIAN_C = "#6d8fd9"
TITLE_C = "#6e1a3a"

plt.rcParams["font.family"] = ["Lato", "DejaVu Sans"]
plt.rcParams["axes.unicode_minus"] = False

W, H = 1307, 1260
fig = plt.figure(figsize=(W / 100, H / 100), dpi=100)

COL_X = [110, 745]
COL_W = [532, 531]
ROW_TOP = [255, 450, 647, 843]
ROW_H = 162


def add_panel(col, row):
    left = COL_X[col] / W
    bottom = 1 - (ROW_TOP[row] + ROW_H) / H
    return fig.add_axes([left, bottom, COL_W[col] / W, ROW_H / H])


def draw_panel(ax, ccmi, obs, ylim, major, region, region_y, first, last, unclipped=False):
    up, p90, p10, lo, mean, median = ccmi
    clip = not unclipped
    ax.fill_between(CCMI_YEARS, p10, p90, color=BAND, lw=0, zorder=1, clip_on=clip)
    for arr in (p90, p10):
        ax.plot(CCMI_YEARS, arr, color="#ababab", lw=1.5, zorder=1.2, clip_on=clip)
    for arr in (up, lo):
        ax.plot(CCMI_YEARS, arr, color=GREY_LINE, lw=2.0, zorder=1.2, clip_on=clip)
    ax.plot(CCMI_YEARS, median, color=MEDIAN_C, lw=2.6, zorder=1.5, clip_on=clip)
    ax.plot(CCMI_YEARS, mean, color=MEAN_C, lw=1.4, zorder=1.6, clip_on=clip)
    ax.axhline(0, color="#3a3a3a", lw=1.1, ls=(0, (4, 3)), zorder=1.7)

    for i, key in enumerate(DRAW_ORDER):
        if key not in obs:
            continue
        start, vals = obs[key]
        yrs = np.arange(start, start + len(vals))
        ax.plot(yrs, vals, zorder=2 + i * 0.1, solid_capstyle="butt", **STYLE[key])

    ax.set_xlim(1970, 2020)
    ax.set_ylim(*ylim)
    ax.add_patch(Rectangle((0, 0), 1, 1, transform=ax.transAxes, fill=False,
                           ec="#ececec", lw=1.0, zorder=0))
    for s in ("top", "right", "bottom"):
        ax.spines[s].set_visible(False)
    ax.spines["left"].set_position(("outward", 5.5))
    ax.spines["left"].set_linewidth(1.0)
    ax.yaxis.set_major_locator(MultipleLocator(major))
    ax.yaxis.set_minor_locator(MultipleLocator(major / 2))
    ax.tick_params(axis="y", which="major", length=11, width=1.0, pad=7, labelsize=11.5)
    ax.tick_params(axis="y", which="minor", length=5, width=1.0)

    ax.xaxis.set_major_locator(MultipleLocator(5))
    ax.xaxis.set_minor_locator(MultipleLocator(1))
    ax.tick_params(axis="x", which="both", bottom=False, top=False,
                   labelbottom=False, labeltop=False)
    if first:
        ax.spines["top"].set_visible(True)
        ax.spines["top"].set_position(("outward", 31))
        ax.tick_params(axis="x", which="both", top=True, labeltop=True)
        ax.tick_params(axis="x", which="major", length=12, width=1.0, pad=6, labelsize=11.5)
        ax.tick_params(axis="x", which="minor", length=6, width=1.0)
    if last:
        ax.spines["bottom"].set_visible(True)
        ax.spines["bottom"].set_position(("outward", 5))
        ax.tick_params(axis="x", which="both", bottom=True, labelbottom=True)
        ax.tick_params(axis="x", which="major", length=13, width=1.0, pad=10, labelsize=11.5)
        ax.tick_params(axis="x", which="minor", length=7, width=1.0)

    ax.text(0.0, region_y, region, transform=ax.transAxes, ha="left", va="center",
            fontsize=16.5, zorder=10)


REGION_Y_LEFT = [0.01, 0.0, 0.02, 0.055]
REGION_Y_RIGHT = [0.086, 0.08, 0.09, 0.14]

left_axes = []
for r, (ccmi, obs) in enumerate(LEFT):
    ax = add_panel(0, r)
    draw_panel(ax, ccmi, obs, (-5, 10), 5, REGIONS_LEFT[r], REGION_Y_LEFT[r], r == 0, r == 3)
    left_axes.append(ax)

right_axes = []
for r, (ccmi, obs) in enumerate(RIGHT):
    ax = add_panel(1, r)
    draw_panel(ax, ccmi, obs, (-15, 20), 10, REGIONS_RIGHT[r], REGION_Y_RIGHT[r], r == 0, r == 3,
               unclipped=(r == 3))
    right_axes.append(ax)

left_axes[0].text(0.519, 1 + 18 / ROW_H, "Ozone Anomalies 20 hPa/26 km", transform=left_axes[0].transAxes,
                  ha="center", va="center", fontsize=17.5)
right_axes[0].text(0.508, 1 + 18 / ROW_H, "Ozone Anomalies 70 hPa/19 km", transform=right_axes[0].transAxes,
                   ha="center", va="center", fontsize=17.5)

fig.text(40 / W, 1 - 548 / H, "Ozone anomaly (%)", rotation=90, ha="center", va="center", fontsize=17)
fig.text(370 / W, 1 - 1080 / H, "Year", ha="center", va="center", fontsize=17)
fig.text(1004 / W, 1 - 1080 / H, "Year", ha="center", va="center", fontsize=17)

# ---------------------------------------------------------------- caption and frame
fig.add_artist(Line2D([10 / W, 10 / W, 1299 / W, 1299 / W], [0, 1 - 10 / H, 1 - 10 / H, 0],
                      transform=fig.transFigure, color="#99365f", lw=1.2))

renderer = fig.canvas.get_renderer()
LINE1 = [("Figure 3-16.", "bold", "normal"), (" Same as ", "normal", "normal"),
         ("Figure 3-15", "bold", "normal"), (" but for levels 20 hPa/26 km (", "normal", "normal"),
         ("left", "normal", "italic"), (") and 70 hPa/19 km (right). Adapted from", "normal", "normal")]


def run_width(runs, size):
    total = 0
    for txt, weight, style in runs:
        t = fig.text(0, 0, txt, fontsize=size, fontweight=weight, fontstyle=style)
        total += t.get_window_extent(renderer).width
        t.remove()
    return total


cap_size = 20 * 1247 / run_width(LINE1, 20)


def put_runs(x, y, runs, size):
    for txt, weight, style in runs:
        t = fig.text(x, y, txt, fontsize=size, fontweight=weight, fontstyle=style,
                     color=TITLE_C, ha="left", va="baseline")
        x += t.get_window_extent(renderer).width / W


put_runs(36 / W, 1 - 69 / H, LINE1, cap_size)
put_runs(36 / W, 1 - 106 / H, [("LOTUS (2018).", "normal", "normal")], cap_size)

# ---------------------------------------------------------------- legends
LEG_FS = 14
LABELS = {
    "sbuv_mod": "SBUV MOD v8.6", "sbuv_coh": "SBUV COH v8.6", "swoosh": "SWOOSH v2.6",
    "gozcards": "GOZCARDS v2.20", "sage_cci": "SAGE-CCI-OMPS", "sage_osiris": "SAGE-OSIRIS-OMPS",
    "sage_mipas": "SAGE-MIPAS-OMPS", "sonde": "Ozonesonde", "lidar": "Lidar",
    "microwave": "Microwave", "umkehr": "Umkehr", "ftir": "FTIR",
}


def solid(key):
    return Line2D([], [], color=STYLE[key]["color"], lw=1.5)


def dotted(key):
    return Line2D([], [], color=STYLE[key]["color"], lw=1.8, ls=(0, (1, 1.3)))


groups = [
    ([solid(k) for k in ("sbuv_mod", "sbuv_coh", "swoosh", "gozcards")],
     [LABELS[k] for k in ("sbuv_mod", "sbuv_coh", "swoosh", "gozcards")], (115, 1134), 0.56),
    ([solid(k) for k in ("sage_cci", "sage_osiris", "sage_mipas")],
     [LABELS[k] for k in ("sage_cci", "sage_osiris", "sage_mipas")], (443, 1166), 0.46),
    ([dotted(k) for k in ("sonde", "lidar", "microwave", "umkehr", "ftir")],
     [LABELS[k] for k in ("sonde", "lidar", "microwave", "umkehr", "ftir")], (805, 1115), 0.48),
    ([Line2D([], [], color=MEAN_C, lw=1.5), Line2D([], [], color=MEDIAN_C, lw=1.5),
      Line2D([], [], color=GREY_LINE, lw=1.5), Patch(facecolor="#d3d3d3", edgecolor="#a8a8a8", lw=1)],
     ["CCMI mean", "CCMI median", "CCMI mean ± 2σ", "CCMI perc10/perc90"], (1037, 1138), 0.62),
]
for handles, labels, (lx, ly), spacing in groups:
    fig.legend(handles, labels, loc="upper left", bbox_to_anchor=(lx / W, 1 - ly / H),
               frameon=False, fontsize=LEG_FS, handlelength=2.3, handletextpad=0.4,
               labelspacing=spacing, borderpad=0, borderaxespad=0)

fig.savefig("out.png", dpi=100)
